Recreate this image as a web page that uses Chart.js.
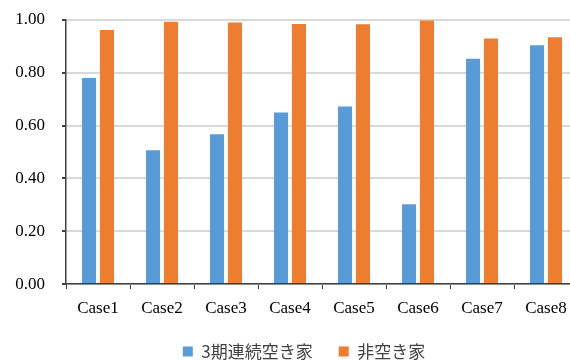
<!DOCTYPE html>
<html>
<head>
<meta charset="utf-8">
<script src="https://cdn.jsdelivr.net/npm/chart.js@4/dist/chart.umd.min.js"></script>
<style>
  html, body { margin: 0; padding: 0; background: #fff; overflow: hidden; }
  #wrap { width: 580px; height: 370px; }
</style>
</head>
<body>
<div id="wrap"><canvas id="myChart" width="580" height="370"></canvas></div>
<script>
// Data
const categories = ['Case1', 'Case2', 'Case3', 'Case4', 'Case5', 'Case6', 'Case7', 'Case8'];
const vacant3 = [0.78, 0.507, 0.567, 0.65, 0.672, 0.302, 0.853, 0.904];
const notVacant = [0.962, 0.993, 0.991, 0.985, 0.984, 0.998, 0.930, 0.935];
const yTicks = [0, 0.2, 0.4, 0.6, 0.8, 1.0];

// nudge the legend right, so it sits where the original one does
const legendShift = {
    id: 'legendShift',
    afterLayout(chart) {
        const lg = chart.legend;
        if (lg) { lg.left += 15; lg.right += 15; }
    },
};

const ctx = document.getElementById('myChart').getContext('2d');
const myChart = new Chart(ctx, {
    type: 'bar',
    data: {
        labels: categories,
        datasets: [{
            label: '3期連続空き家',
            data: vacant3,
            backgroundColor: '#5B9BD5',
        }, {
            label: '非空き家',
            data: notVacant,
            backgroundColor: '#ED7D31',
        }],
    },
    plugins: [legendShift],
    options: {
        responsive: false,
        animation: false,
        layout: { padding: { left: 0, right: 2, top: 20, bottom: 0 } },
        datasets: {
            bar: { categoryPercentage: 0.5625, barPercentage: 0.78 },
        },
        plugins: {
            legend: {
                position: 'bottom',
                labels: {
                    boxWidth: 10,
                    boxHeight: 10,
                    padding: 26,
                    color: '#404040',
                    font: { family: '"Noto Sans CJK JP"', size: 17 },
                },
            },
            tooltip: { enabled: false },
        },
        scales: {
            x: {
                afterFit: (scale) => { scale.height -= 10.5; },
                grid: {
                    drawOnChartArea: false,
                    offset: true,
                    tickLength: 5,
                    tickColor: '#404040',
                },
                border: { color: '#404040', width: 1.5 },
                ticks: {
                    padding: 9,
                    color: '#000',
                    font: { family: '"Liberation Serif"', size: 17 },
                },
            },
            y: {
                min: 0,
                max: 1,
                afterFit: (scale) => { scale.width = 66; scale.paddingTop = 0; },
                afterBuildTicks: (scale) => { scale.ticks = yTicks.map(v => ({ value: v })); },
                grid: {
                    color: '#d9d9d9',
                    lineWidth: 2,
                    tickLength: 4,
                    tickColor: '#404040',
                },
                border: { color: '#404040', width: 1.5 },
                ticks: {
                    padding: 17,
                    color: '#000',
                    font: { family: '"Liberation Serif"', size: 17 },
                    callback: (v) => Number(v).toFixed(2),
                },
            },
        },
    },
});
</script>
</body>
</html>
